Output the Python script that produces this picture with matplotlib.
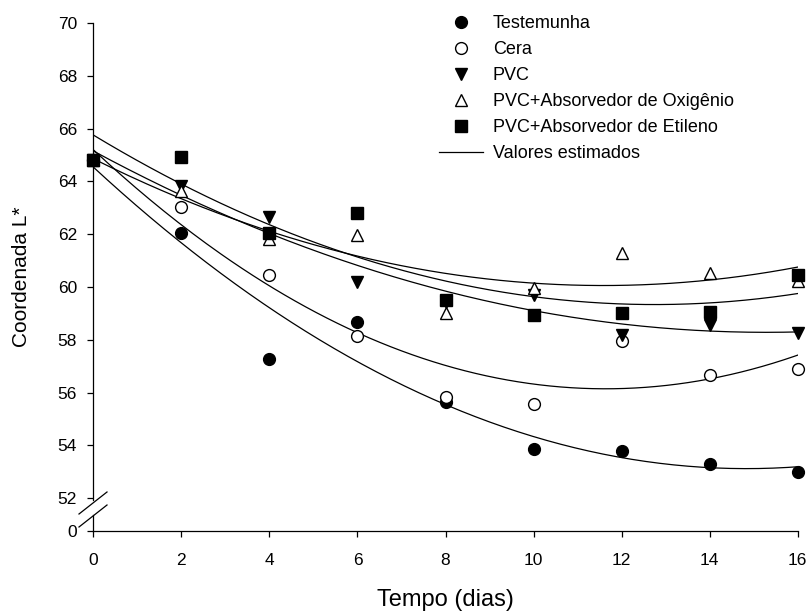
import numpy as np
import matplotlib
matplotlib.use('Agg')
import matplotlib.pyplot as plt
from matplotlib.lines import Line2D

plt.rcParams['font.family'] = ['Liberation Sans', 'DejaVu Sans']

dias = [0, 2, 4, 6, 8, 10, 12, 14, 16]
testemunha = [64.8, 62.03, 57.28, 58.66, 55.63, 53.85, 53.8, 53.28, 53.0]
cera = [64.8, 63.02, 60.45, 58.14, 55.85, 55.57, 57.97, 56.67, 56.88]
pvc = [64.8, 63.84, 62.66, 60.18, 59.45, 59.70, 58.18, 58.56, 58.25]
pvc_oxi = [64.8, 63.65, 61.82, 61.97, 59.03, 59.95, 61.27, 60.54, 60.24]
pvc_eti = [64.8, 64.91, 62.06, 62.82, 59.51, 58.94, 59.0, 59.04, 60.45]

# coeficientes das curvas (valores estimados): c2, c1, c0
coef_testemunha = [0.0519, -1.5399, 64.5428]
coef_cera = [0.0669, -1.5567, 65.2001]
coef_pvc = [0.0294, -0.8988, 65.1526]
coef_pvc_oxi = [0.0358, -0.8293, 64.8587]
coef_pvc_eti = [0.0395, -1.0073, 65.7570]

nomes = ['Testemunha', 'Cera', 'PVC', 'PVC+Absorvedor de Oxigênio',
         'PVC+Absorvedor de Etileno']
series = [testemunha, cera, pvc, pvc_oxi, pvc_eti]
coefs = [coef_testemunha, coef_cera, coef_pvc, coef_pvc_oxi, coef_pvc_eti]
marcas = ['o', 'o', 'v', '^', 's']
faces = ['black', 'white', 'black', 'white', 'black']

W, H = 810, 612
fig = plt.figure(figsize=(W / 100, H / 100), dpi=100)
ax = fig.add_axes([93.3 / W, 1 - 531 / H, (797.7 - 93.3) / W, (531 - 23) / H])

y0 = 70 - (531 - 23) / 26.4   # posicao do "0" no eixo quebrado
ax.set_xlim(0, 16)
ax.set_ylim(y0, 70)

xs = np.linspace(0, 16, 200)
for nome, ys, c, m, fc in zip(nomes, series, coefs, marcas, faces):
    ax.plot(xs, np.polyval(c, xs), color='black', lw=0.9, zorder=2)
    ax.plot(dias, ys, linestyle='none', marker=m, ms=8.5, mfc=fc, mec='black',
            mew=1.0, clip_on=False, zorder=3, label=nome)
ax.plot([], [], color='black', lw=0.9, label='Valores estimados')

ax.set_xticks(dias)
ax.set_yticks([y0] + list(range(52, 71, 2)))
ax.set_yticklabels(['0'] + [str(v) for v in range(52, 71, 2)])
ax.tick_params(direction='out', length=4.3, width=0.9, labelsize=12.5)
ax.tick_params(axis='x', pad=11.5)
ax.tick_params(axis='y', pad=7.5)

for s in ['top', 'right']:
    ax.spines[s].set_visible(False)
ax.spines['bottom'].set_linewidth(0.9)
ax.spines['left'].set_linewidth(0.9)
ax.spines['left'].set_bounds(70 - (500 - 23) / 26.4, 70)
fig.add_artist(Line2D([93.3 / W, 93.3 / W], [1 - 531 / H, 1 - 515 / H], color='black', lw=0.9))
for py in (514, 527):
    fig.add_artist(Line2D([79 / W, 107 / W], [1 - py / H, 1 - (py - 22) / H], color='black', lw=0.9))

ax.set_xlabel('Tempo (dias)', fontsize=17, labelpad=15)
ax.set_ylabel('Coordenada L*', fontsize=15, labelpad=19)

ax.legend(loc='upper left', bbox_to_anchor=(439 / W, 1 - 15 / H), bbox_transform=fig.transFigure,
          frameon=False, fontsize=13, handlelength=2.44, handletextpad=0.55,
          labelspacing=0.5, borderpad=0, borderaxespad=0)

fig.savefig('out.png', dpi=100)
